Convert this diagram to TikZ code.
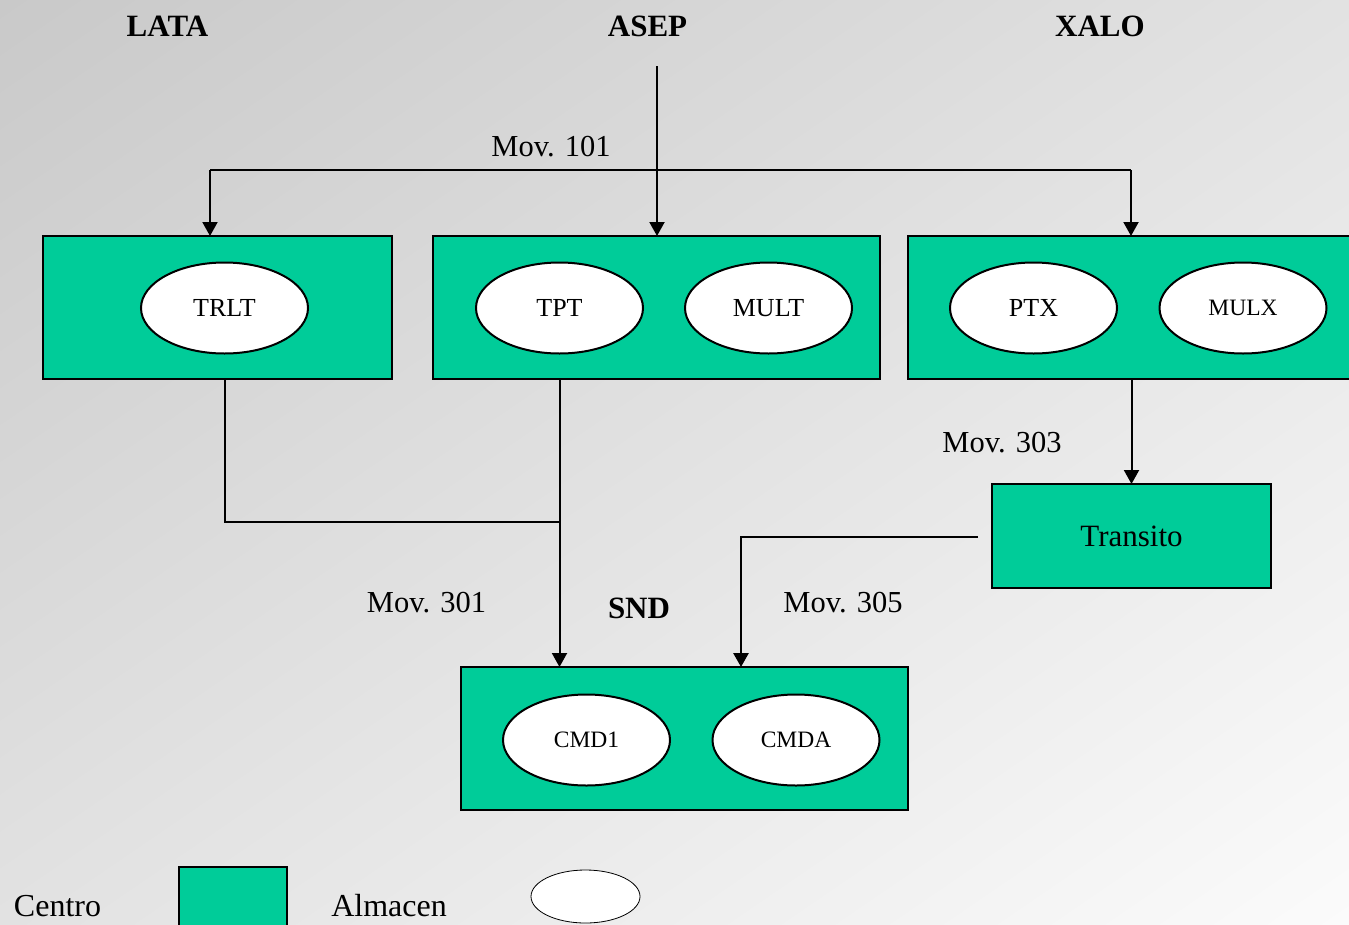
\documentclass[tikz,border=0pt]{standalone}
\usepackage{fontspec}
\setmainfont{Liberation Serif}
\usetikzlibrary{arrows.meta,shapes.geometric}
\definecolor{centrogreen}{HTML}{00CC99}
\definecolor{bgdark}{HTML}{C9C9C9}
\definecolor{bglight}{HTML}{FBFBFB}

\begin{document}
\begin{tikzpicture}[x=1pt,y=-1pt,
  centro/.style={rectangle, draw=black, fill=centrogreen, line width=2pt,
    inner sep=0pt, outer sep=0pt},
  almacen/.style={ellipse, draw=black, fill=white, line width=2pt,
    inner sep=0pt, outer sep=0pt, minimum width=167pt, minimum height=91pt},
  small/.style={font=\fontsize{23.5}{28}\selectfont},
  big/.style={font=\fontsize{26}{30}\selectfont},
  title/.style={anchor=base, inner sep=0pt, font=\bfseries\fontsize{31}{36}\selectfont},
  movlabel/.style={anchor=base, inner sep=0pt, font=\fontsize{30.5}{36}\selectfont},
  legendtext/.style={anchor=base, inner sep=0pt, font=\fontsize{32}{38}\selectfont},
  link/.style={line width=2pt},
  arr/.style={link, -{Triangle[length=14pt,width=15pt]}}
]
% page and background: diagonal grey gradient, dark at top left
\useasboundingbox (0,0) rectangle (1349,924);
\clip (0,0) rectangle (1349,924);
\foreach \k in {0,...,99}{
  \pgfmathsetmacro\xa{1349*(2*\k/100+0.011)}
  \pgfmathsetmacro\xb{1349*(2*(\k+1)/100+0.017)}
  \pgfmathsetmacro\xc{1349*(2*(\k+1)/100+0.006-1.011)}
  \pgfmathsetmacro\xd{1349*(2*\k/100-1.011)}
  \pgfmathsetmacro\p{\k+0.5}
  \fill[bglight!\p!bgdark]
    (\xa,-10) -- (\xb,-10) -- (\xc,934) -- (\xd,934) -- cycle;
}

% headings
\node[title] (tlata) at (167.5,36) {LATA};
\node[title] (tasep) at (647.5,36) {ASEP};
\node[title] (txalo) at (1100,36) {XALO};
\node[title] (tsnd)  at (639,618) {SND};

% centres
\node[centro, minimum width=349pt, minimum height=143pt] (lata) at (217.5,307.5) {};
\node[centro, minimum width=447pt, minimum height=143pt] (asep) at (656.5,307.5) {};
\node[centro, minimum width=472pt, minimum height=143pt] (xalo) at (1144,307.5) {};
\node[centro, minimum width=279pt, minimum height=104pt,
      font=\fontsize{31}{36}\selectfont] (transito) at (1131.5,536) {Transito};
\node[centro, minimum width=447pt, minimum height=143pt] (snd) at (684.5,738.5) {};

% almacenes
\node[almacen, big]   (trlt) at (224.5,308) {TRLT};
\node[almacen, big]   (tpt)  at (559.5,308) {TPT};
\node[almacen, big]   (mult) at (768.5,308) {MULT};
\node[almacen, big]   (ptx)  at (1033.5,308) {PTX};
\node[almacen, small] (mulx) at (1243,308) {MULX};
\node[almacen, small] (cmd1) at (586.5,740) {CMD1};
\node[almacen, small] (cmda) at (796,740) {CMDA};

% movement labels
\node[movlabel] (m101) at (551,156) {Mov. 101};
\node[movlabel] (m303) at (1002,452) {Mov. 303};
\node[movlabel] (m301) at (426.5,612) {Mov. 301};
\node[movlabel] (m305) at (843,612) {Mov. 305};

% Mov. 101: distribution from ASEP
\coordinate (src) at (657,66);
\coordinate (h1) at (210,170);
\coordinate (h2) at (1131,170);
\draw[arr] (src) -- (asep.north -| src);
\draw[link] (h1) -- (h2);
\draw[arr] (h1) -- (h1 |- lata.north);
\draw[arr] (h2) -- (h2 |- xalo.north);

% Mov. 301: LATA and ASEP into SND
\coordinate (join) at (559.5,522);
\draw[link] (trlt |- lata.south) |- (join);
\draw[arr] (tpt |- asep.south) -- (tpt |- snd.north);

% Mov. 303: XALO into Transito
\draw[arr] (transito.north |- xalo.south) -- (transito.north);

% Mov. 305: Transito into SND
\coordinate (tout) at (978,537);
\coordinate (sin) at (741,667);
\draw[arr, line width=2.8pt] (tout) -| (sin);

% legend
\node[legendtext] (lcentro) at (57.5,916) {Centro};
\node[centro, minimum width=108pt, minimum height=70pt] (lbox) at (233,902) {};
\node[legendtext] (lalmacen) at (389,916) {Almacen};
\node[ellipse, draw=black, fill=white, line width=0.8pt, inner sep=0pt,
      minimum width=109pt, minimum height=53pt] (lell) at (585.5,896.5) {};
\end{tikzpicture}
\end{document}
